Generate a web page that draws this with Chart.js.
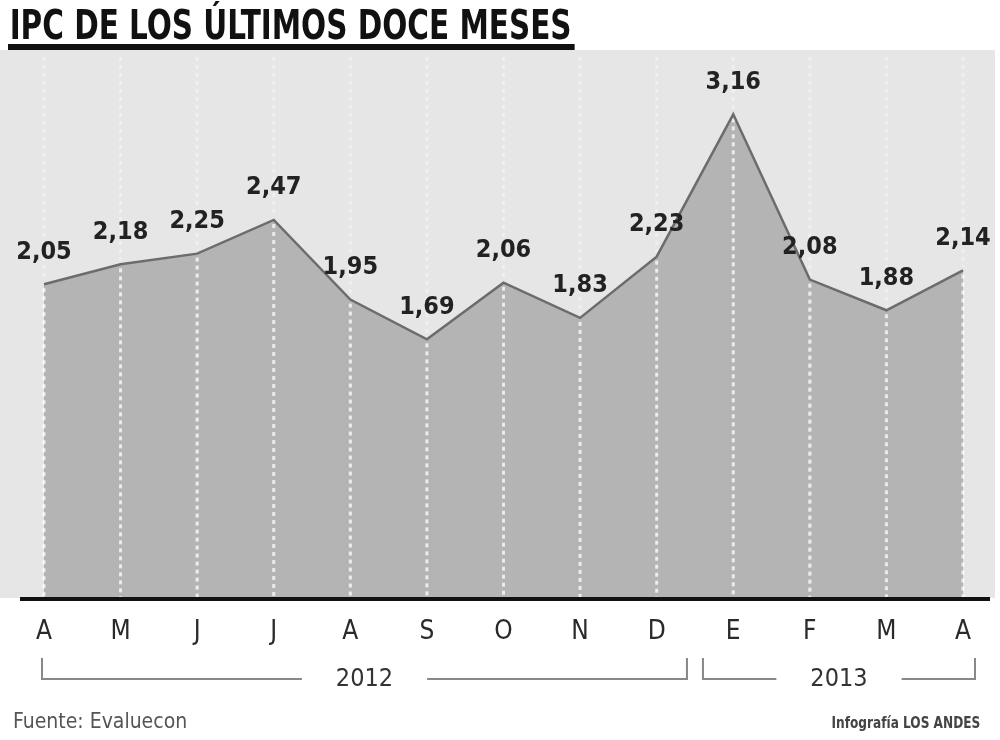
<!DOCTYPE html>
<html>
<head>
<meta charset="utf-8">
<script src="https://cdn.jsdelivr.net/npm/chart.js@4"></script>
<style>
  body { margin: 0; background: #fff; }
  #wrap { position: relative; width: 1000px; height: 740px; overflow: hidden; }
  #ipcChart { position: absolute; left: 0; top: 0; }
  .title {
    position: absolute; left: 8px; top: 6px;
    font: bold 40px "DejaVu Sans Condensed", sans-serif;
    line-height: 38px; color: #111;
    padding: 0 4px 0 2px;
    border-bottom: 6px solid #111;
    transform: scaleX(0.82); transform-origin: left top;
    white-space: nowrap;
  }
  .source {
    position: absolute; left: 13px; top: 709px;
    font: 21px "DejaVu Sans Condensed", sans-serif;
    color: #555;
  }
  .credit {
    position: absolute; right: 20px; top: 714px;
    font: bold 15px "DejaVu Sans Condensed", sans-serif;
    color: #444;
    transform: scaleX(0.9); transform-origin: right top;
  }
</style>
</head>
<body>
<div id="wrap">
  <canvas id="ipcChart" width="1000" height="740"></canvas>
  <div class="title">IPC DE LOS ÚLTIMOS DOCE MESES</div>
  <div class="source">Fuente: Evaluecon</div>
  <div class="credit">Infografía LOS ANDES</div>
</div>
<script>
const months = ["A", "M", "J", "J", "A", "S", "O", "N", "D", "E", "F", "M", "A"];
const monthYear = ["2012", "2012", "2012", "2012", "2012", "2012", "2012", "2012", "2012", "2013", "2013", "2013", "2013"];
const ipc = [2.05, 2.18, 2.25, 2.47, 1.95, 1.69, 2.06, 1.83, 2.23, 3.16, 2.08, 1.88, 2.14];

const narrow = '"DejaVu Sans Condensed", sans-serif';
const fmt = v => v.toFixed(2).replace(".", ",");

// gray panel behind the area
const panel = {
  id: "panel",
  beforeDraw(chart) {
    const c = chart.ctx;
    c.save();
    c.fillStyle = "#e6e6e6";
    c.fillRect(0, 50, 995, chart.chartArea.bottom - 50);
    c.restore();
  }
};

// dashed white guides at every month, between fill and line
const guides = {
  id: "guides",
  beforeDatasetsDraw(chart) {
    const c = chart.ctx;
    const { top, bottom } = chart.chartArea;
    const pts = chart.getDatasetMeta(0).data;
    c.save();
    c.lineWidth = 3;
    c.setLineDash([4, 4]);
    pts.forEach(p => {
      c.strokeStyle = "rgba(255,255,255,0.35)";
      c.beginPath();
      c.moveTo(p.x, top + 10);
      c.lineTo(p.x, p.y - 4);
      c.stroke();
      c.strokeStyle = "rgba(255,255,255,0.75)";
      c.beginPath();
      c.moveTo(p.x, p.y + 4);
      c.lineTo(p.x, bottom);
      c.stroke();
    });
    c.restore();
  }
};

// baseline, value labels and year brackets
const extras = {
  id: "extras",
  afterDatasetsDraw(chart) {
    const c = chart.ctx;
    const x = chart.scales.x;
    const { bottom } = chart.chartArea;
    const pts = chart.getDatasetMeta(0).data;
    c.save();

    c.fillStyle = "#111";
    c.fillRect(20, bottom - 1, 970, 4);

    c.font = "bold 25px " + narrow;
    c.fillStyle = "#222";
    c.textAlign = "center";
    c.textBaseline = "middle";
    pts.forEach((p, i) => c.fillText(fmt(ipc[i]), p.x, p.y - 32));

    // group months by year
    const groups = [];
    monthYear.forEach((y, i) => {
      const g = groups[groups.length - 1];
      if (g && g.year === y) g.end = i;
      else groups.push({ year: y, start: i, end: i });
    });
    c.font = "25px " + narrow;
    c.fillStyle = "#333";
    c.strokeStyle = "#888";
    c.lineWidth = 2;
    const ly = 679, ty = 658;
    groups.forEach((g, gi) => {
      const left = g.start === 0 ? x.getPixelForValue(g.start) - 2
        : (x.getPixelForValue(g.start - 1) + x.getPixelForValue(g.start)) / 2 + 8;
      const right = gi === groups.length - 1 ? x.getPixelForValue(g.end) + 12
        : (x.getPixelForValue(g.end) + x.getPixelForValue(g.end + 1)) / 2 - 8;
      const mid = (left + right) / 2;
      const half = c.measureText(g.year).width / 2 + 34;
      c.beginPath();
      c.moveTo(left, ty); c.lineTo(left, ly); c.lineTo(mid - half, ly);
      c.moveTo(mid + half, ly); c.lineTo(right, ly); c.lineTo(right, ty);
      c.stroke();
      c.fillText(g.year, mid, ly);
    });
    c.restore();
  }
};

new Chart(document.getElementById("ipcChart"), {
  type: "line",
  data: {
    labels: months,
    datasets: [{
      data: ipc,
      fill: "origin",
      backgroundColor: "#b4b4b4",
      borderColor: "#6c6c6c",
      borderWidth: 2.5,
      pointRadius: 0,
      tension: 0
    }]
  },
  options: {
    responsive: false,
    animation: false,
    layout: { padding: { left: 44, right: 37, top: 47, bottom: 0 } },
    plugins: {
      legend: { display: false },
      tooltip: { enabled: false },
      filler: { drawTime: "beforeDatasetsDraw" }
    },
    scales: {
      x: {
        offset: false,
        grid: { display: false },
        border: { display: false },
        ticks: {
          color: "#2a2a2a",
          font: { family: narrow, size: 26 },
          padding: 11,
          maxRotation: 0,
          autoSkip: false
        },
        afterFit(scale) { scale.height = 142; }
      },
      y: { display: false, min: 0, max: 3.6 }
    }
  },
  plugins: [panel, guides, extras]
});
</script>
</body>
</html>
